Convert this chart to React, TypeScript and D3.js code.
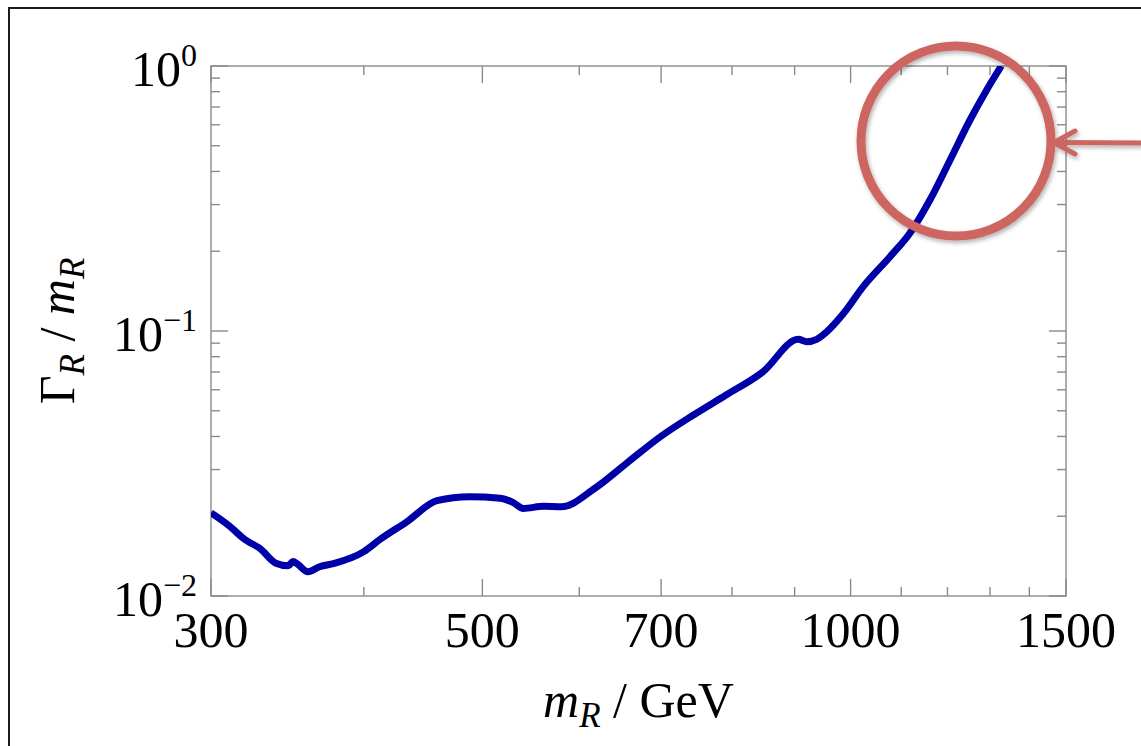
import React from "react";
import * as d3 from "d3";

// ---- data ----
const massGeV: number[] = [
  300, 310, 320, 329, 339, 347, 350, 353, 360, 368, 379, 400, 412, 434, 459, 488,
  517, 530, 540, 561, 580, 618, 656, 699, 744, 791, 848, 906, 921, 938, 956, 987,
  1024, 1077, 1118, 1161, 1206, 1252, 1292, 1328,
];
const widthRatio: number[] = [
  0.0206, 0.0185, 0.0163, 0.0151, 0.0133, 0.013, 0.0135, 0.0132, 0.01235, 0.0129,
  0.0133, 0.0147, 0.0163, 0.0191, 0.0229, 0.0237, 0.0234, 0.0225, 0.0214, 0.0218,
  0.0217, 0.0255, 0.0317, 0.0399, 0.0482, 0.0573, 0.0702, 0.093, 0.0911, 0.093,
  0.0993, 0.1166, 0.147, 0.1907, 0.2337, 0.312, 0.4418, 0.6255, 0.812, 1.0,
];
const xMajorTicks: number[] = [300, 500, 700, 1000, 1500];
const xMinorTicks: number[] = [400, 600, 800, 900, 1100, 1200, 1300, 1400];
const yMajorTicks: number[] = [1, 0.1, 0.01];
const yTickExponents: string[] = ["0", "\u22121", "\u22122"];

const W = 1141;
const H = 746;
const plot = { left: 211, right: 1066, top: 66, bottom: 596 };

export default function App() {
  const x = d3.scaleLog().domain([300, 1500]).range([plot.left, plot.right]);
  const y = d3.scaleLog().domain([0.01, 1]).range([plot.bottom, plot.top]);
  const yMinor = y.ticks().filter((t) => !yMajorTicks.some((m) => Math.abs(m - t) / m < 1e-6));

  const pts: [number, number][] = massGeV.map((m, i) => [m, widthRatio[i]]);
  const line = d3
    .line<[number, number]>()
    .x((d) => x(d[0]))
    .y((d) => y(d[1]))
    .curve(d3.curveMonotoneX);

  const axisColor = "#8a8a8a";
  const majorLen = 17;
  const minorLen = 9;
  const font = "'Liberation Serif', 'Times New Roman', serif";

  return (
    <svg
      width={W}
      height={H}
      style={{ position: "absolute", left: 0, top: 0, background: "#fff" }}
      fontFamily={font}
    >
      <defs>
        <clipPath id="plotClip">
          <rect x={plot.left} y={plot.top} width={plot.right - plot.left} height={plot.bottom - plot.top} />
        </clipPath>
        <filter id="shadow" x="-20%" y="-20%" width="140%" height="140%">
          <feDropShadow dx="1.5" dy="2.5" stdDeviation="2" floodColor="#000" floodOpacity="0.3" />
        </filter>
      </defs>
      <rect x={0} y={0} width={W} height={H} fill="#fff" />
      {/* outer slide frame */}
      <rect x={9} y={8} width={1300} height={900} fill="none" stroke="#1c1c1c" strokeWidth={2} />

      {/* plot frame */}
      <rect
        x={plot.left}
        y={plot.top}
        width={plot.right - plot.left}
        height={plot.bottom - plot.top}
        fill="none"
        stroke={axisColor}
        strokeWidth={1.4}
      />

      {/* ticks */}
      <g stroke={axisColor} strokeWidth={1.4}>
        {xMajorTicks.map((t) => (
          <g key={"xM" + t}>
            <line x1={x(t)} x2={x(t)} y1={plot.bottom} y2={plot.bottom - majorLen} />
            <line x1={x(t)} x2={x(t)} y1={plot.top} y2={plot.top + majorLen} />
          </g>
        ))}
        {xMinorTicks.map((t) => (
          <g key={"xm" + t}>
            <line x1={x(t)} x2={x(t)} y1={plot.bottom} y2={plot.bottom - minorLen} />
            <line x1={x(t)} x2={x(t)} y1={plot.top} y2={plot.top + minorLen} />
          </g>
        ))}
        {yMajorTicks.map((t) => (
          <g key={"yM" + t}>
            <line x1={plot.left} x2={plot.left + majorLen} y1={y(t)} y2={y(t)} />
            <line x1={plot.right} x2={plot.right - majorLen} y1={y(t)} y2={y(t)} />
          </g>
        ))}
        {yMinor.map((t) => (
          <g key={"ym" + t}>
            <line x1={plot.left} x2={plot.left + minorLen} y1={y(t)} y2={y(t)} />
            <line x1={plot.right} x2={plot.right - minorLen} y1={y(t)} y2={y(t)} />
          </g>
        ))}
      </g>

      {/* x tick labels */}
      {xMajorTicks.map((t) => (
        <text key={"xl" + t} x={x(t)} y={647} fontSize={50} textAnchor="middle" fill="#000">
          {t}
        </text>
      ))}

      {/* y tick labels */}
      {yMajorTicks.map((t, i) => (
        <text key={"yl" + t} x={197} y={y(t) + 20} fontSize={50} textAnchor="end" fill="#000">
          10
          <tspan fontSize={32} dy={-20}>
            {yTickExponents[i]}
          </tspan>
        </text>
      ))}

      {/* axis titles */}
      <text x={(plot.left + plot.right) / 2} y={717} fontSize={50} textAnchor="middle" fill="#000">
        <tspan fontStyle="italic">m</tspan>
        <tspan fontStyle="italic" fontSize={35} dy={10}>R</tspan>
        <tspan dy={-10}>{" / GeV"}</tspan>
      </text>
      <text
        transform={`translate(74, ${(plot.top + plot.bottom) / 2}) rotate(-90)`}
        fontSize={50}
        textAnchor="middle"
        fill="#000"
      >
        <tspan>{"\u0393"}</tspan>
        <tspan fontStyle="italic" fontSize={35} dy={10}>R</tspan>
        <tspan dy={-10}>{" / "}</tspan>
        <tspan fontStyle="italic">m</tspan>
        <tspan fontStyle="italic" fontSize={35} dy={10}>R</tspan>
      </text>

      {/* curve */}
      <path
        d={line(pts) || ""}
        fill="none"
        stroke="#0000a8"
        strokeWidth={7}
        strokeLinejoin="round"
        strokeLinecap="butt"
        clipPath="url(#plotClip)"
      />

      {/* annotation circle + arrow */}
      <g filter="url(#shadow)" stroke="#cd6661" fill="none">
        <circle cx={956} cy={141} r={95} strokeWidth={9} />
        <line x1={1145} y1={143} x2={1056} y2={142.5} strokeWidth={5} strokeLinecap="round" />
        <polyline
          points="1075,131 1054,142.5 1075,154"
          strokeWidth={5}
          strokeLinecap="round"
          strokeLinejoin="round"
        />
      </g>
    </svg>
  );
}
